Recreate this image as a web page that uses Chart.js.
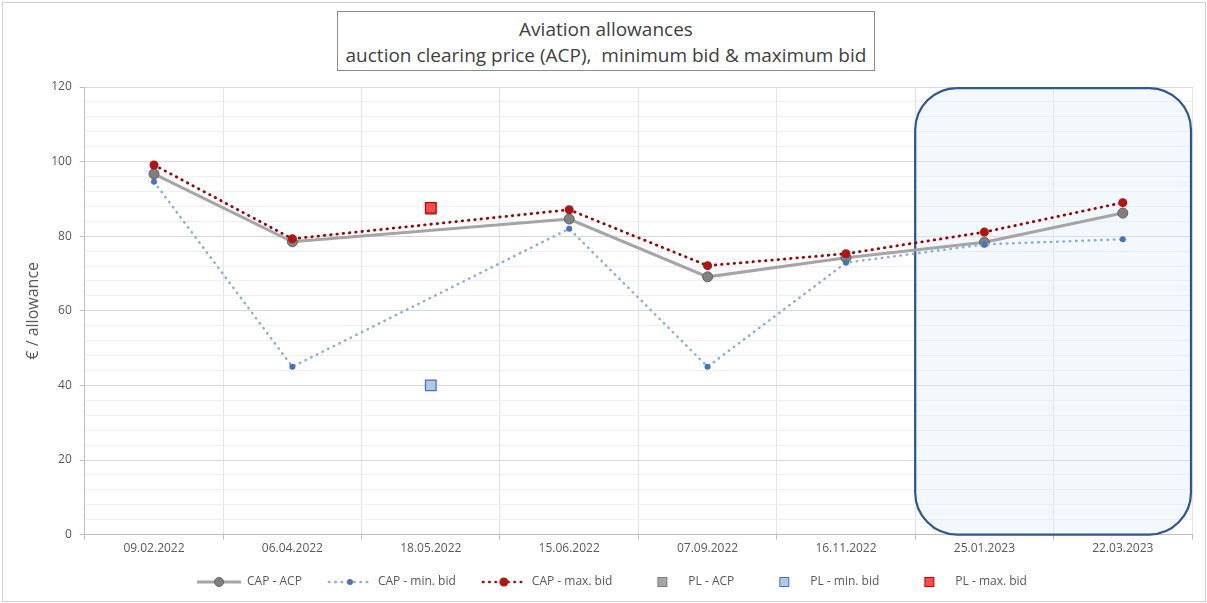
<!DOCTYPE html>
<html><head><meta charset="utf-8">
<script src="https://cdn.jsdelivr.net/npm/chart.js@4"></script>
<style>
html,body{margin:0;padding:0;background:#fff;}
#wrap{position:relative;width:1207px;height:603px;overflow:hidden;}
#frame{position:absolute;left:2px;top:2px;width:1204px;height:600px;border:1px solid #d0d0d0;box-sizing:border-box;pointer-events:none;}
#title{position:absolute;left:337px;top:11px;width:538px;height:60px;border:1px solid #8c8c8c;box-sizing:border-box;font-family:'Open Sans',sans-serif;font-size:19px;color:#404040;text-align:center;line-height:26px;padding-top:4px;background:#fff;white-space:nowrap;}
canvas{position:absolute;left:0;top:0;}
</style></head>
<body>
<div id="wrap">
<canvas id="c" width="1207" height="603"></canvas>
<div id="frame"></div>
<div id="title">Aviation allowances<br>auction clearing price (ACP),&nbsp; minimum bid &amp; maximum bid</div>
</div>
<script>
const categories = ['09.02.2022','06.04.2022','18.05.2022','15.06.2022','07.09.2022','16.11.2022','25.01.2023','22.03.2023'];
const capAcp = [96.7, 78.5, null, 84.6, 69.1, 74.2, 78.4, 86.2];
const capMin = [94.6, 45.0, null, 82.0, 45.0, 72.9, 77.8, 79.2];
const capMax = [99.1, 79.3, null, 87.1, 72.1, 75.3, 81.1, 89.0];
const plAcp  = [null, null, 87.3, null, null, null, null, null];
const plMin  = [null, null, 40.0, null, null, null, null, null];
const plMax  = [null, null, 87.6, null, null, null, null, null];
const seriesNames = ['CAP - ACP','CAP - min. bid','CAP - max. bid','PL - ACP','PL - min. bid','PL - max. bid'];
const yMin = 0, yMax = 120, yMajorStep = 20, yMinorStep = 4;
const highlightFirst = '25.01.2023';

const FONT = "'Open Sans', sans-serif";
const TXT = '#595959';
const ICON_W = 52, ICON_LEAD = 8;

function legendIcon(kind) {
  const c = document.createElement('canvas');
  c.width = ICON_W; c.height = 12;
  const g = c.getContext('2d');
  const cy = 6, x0 = ICON_LEAD, x1 = ICON_W, xm = (x0 + x1) / 2;
  if (kind === 0) {
    g.strokeStyle = '#a5a5a5'; g.lineWidth = 3;
    g.beginPath(); g.moveTo(x0, cy); g.lineTo(x1, cy); g.stroke();
    g.fillStyle = '#808080'; g.strokeStyle = '#606060'; g.lineWidth = 1;
    g.beginPath(); g.arc(xm, cy, 4.5, 0, Math.PI * 2); g.fill(); g.stroke();
  } else if (kind === 1 || kind === 2) {
    g.strokeStyle = kind === 1 ? '#8faadc' : '#a00000';
    g.lineWidth = 2.5; g.lineCap = 'round'; g.setLineDash([0.5, 5.8]);
    g.beginPath(); g.moveTo(x0 + 1, cy); g.lineTo(x1, cy); g.stroke();
    g.setLineDash([]);
    g.fillStyle = kind === 1 ? '#4472c4' : '#b01515';
    g.beginPath(); g.arc(xm, cy, kind === 1 ? 3 : 4.5, 0, Math.PI * 2); g.fill();
  } else {
    const fills = {3: ['#a5a5a5', '#7f7f7f'], 4: ['#b4c7e7', '#4472c4'], 5: ['#ff4b4b', '#c00000']}[kind];
    const sx = ICON_W - 20;
    g.fillStyle = fills[0]; g.strokeStyle = fills[1]; g.lineWidth = 1;
    g.fillRect(sx - 4.5, 1.5, 9, 9); g.strokeRect(sx - 4.5, 1.5, 9, 9);
  }
  return c;
}
const icons = [0,1,2,3,4,5].map(legendIcon);

const highlightPlugin = {
  id: 'highlight',
  beforeDatasetsDraw(chart) {
    const xs = chart.scales.x, ys = chart.scales.y, ca = chart.chartArea;
    const idx = categories.indexOf(highlightFirst);
    const x0 = (xs.getPixelForValue(idx - 1) + xs.getPixelForValue(idx)) / 2;
    const x1 = ca.right - 1;
    const y0 = ys.getPixelForValue(yMax) + 1;
    const y1 = ca.bottom;
    const r = 42;
    const ctx = chart.ctx;
    ctx.save();
    ctx.beginPath();
    ctx.moveTo(x0 + r, y0);
    ctx.arcTo(x1, y0, x1, y1, r);
    ctx.arcTo(x1, y1, x0, y1, r);
    ctx.arcTo(x0, y1, x0, y0, r);
    ctx.arcTo(x0, y0, x1, y0, r);
    ctx.closePath();
    ctx.fillStyle = 'rgba(222,235,247,0.35)';
    ctx.fill();
    ctx.strokeStyle = '#2f5597';
    ctx.lineWidth = 2.25;
    ctx.stroke();
    ctx.restore();
  }
};

new Chart(document.getElementById('c'), {
  type: 'line',
  data: {
    labels: categories,
    datasets: [
      {label: seriesNames[0], data: capAcp, order: 5, spanGaps: true,
       borderColor: '#a5a5a5', borderWidth: 3,
       pointRadius: 5, pointBackgroundColor: '#808080', pointBorderColor: '#606060', pointBorderWidth: 1},
      {label: seriesNames[1], data: capMin, order: 4, spanGaps: true,
       borderColor: '#8faadc', borderWidth: 2.5, borderDash: [0.5, 5.8], borderCapStyle: 'round',
       pointRadius: 3, pointBackgroundColor: '#4472c4', pointBorderColor: '#4472c4', pointBorderWidth: 0},
      {label: seriesNames[2], data: capMax, order: 3, spanGaps: true,
       borderColor: '#a00000', borderWidth: 2.8, borderDash: [0.5, 5.8], borderCapStyle: 'round',
       pointRadius: 4.5, pointBackgroundColor: '#b01515', pointBorderColor: '#b01515', pointBorderWidth: 0},
      {label: seriesNames[3], data: plAcp, order: 2, showLine: false, pointStyle: 'rect',
       pointRadius: 7.5, pointBackgroundColor: '#a5a5a5', pointBorderColor: '#7f7f7f', pointBorderWidth: 1},
      {label: seriesNames[4], data: plMin, order: 1, showLine: false, pointStyle: 'rect',
       pointRadius: 7.5, pointBackgroundColor: '#b4c7e7', pointBorderColor: '#4472c4', pointBorderWidth: 1.25},
      {label: seriesNames[5], data: plMax, order: 0, showLine: false, pointStyle: 'rect',
       pointRadius: 7.5, pointBackgroundColor: '#ff4b4b', pointBorderColor: '#c00000', pointBorderWidth: 1.25}
    ]
  },
  options: {
    responsive: false,
    animation: false,
    devicePixelRatio: 1,
    layout: {padding: {left: 24, right: 15, top: 87, bottom: 5}},
    plugins: {
      tooltip: {enabled: false},
      title: {display: false},
      legend: {
        position: 'bottom',
        labels: {
          usePointStyle: true,
          pointStyleWidth: ICON_W,
          padding: 18,
          color: TXT,
          font: {family: FONT, size: 12},
          sort: (a, b) => a.datasetIndex - b.datasetIndex,
          generateLabels(chart) {
            const items = Chart.defaults.plugins.legend.labels.generateLabels(chart);
            items.forEach((it) => { it.pointStyle = icons[it.datasetIndex]; it.fontColor = TXT; });
            return items;
          }
        }
      }
    },
    scales: {
      x: {
        offset: true,
        grid: {offset: true, color: '#e4e4e4', tickColor: '#bfbfbf', tickLength: 5, drawTicks: true},
        border: {color: '#bfbfbf', width: 1},
        ticks: {color: TXT, font: {family: FONT, size: 12}, padding: 2, maxRotation: 0}
      },
      y: {
        min: yMin, max: yMax,
        grid: {
          color: (c) => (c.tick && c.tick.value % yMajorStep === 0) ? '#d9d9d9' : '#f0f0f0',
          tickColor: (c) => (c.tick && c.tick.value % yMajorStep === 0) ? '#bfbfbf' : 'rgba(0,0,0,0)',
          tickLength: 5
        },
        border: {color: '#bfbfbf', width: 1},
        ticks: {
          stepSize: yMinorStep, autoSkip: false, color: TXT,
          font: {family: FONT, size: 12}, padding: 8,
          callback: (v) => (v % yMajorStep === 0 ? String(v) : '')
        },
        title: {display: true, text: '€ / allowance', color: TXT, font: {family: FONT, size: 16}, padding: {top: 0, bottom: 0}}
      }
    }
  },
  plugins: [highlightPlugin]
});
</script>
</body></html>
